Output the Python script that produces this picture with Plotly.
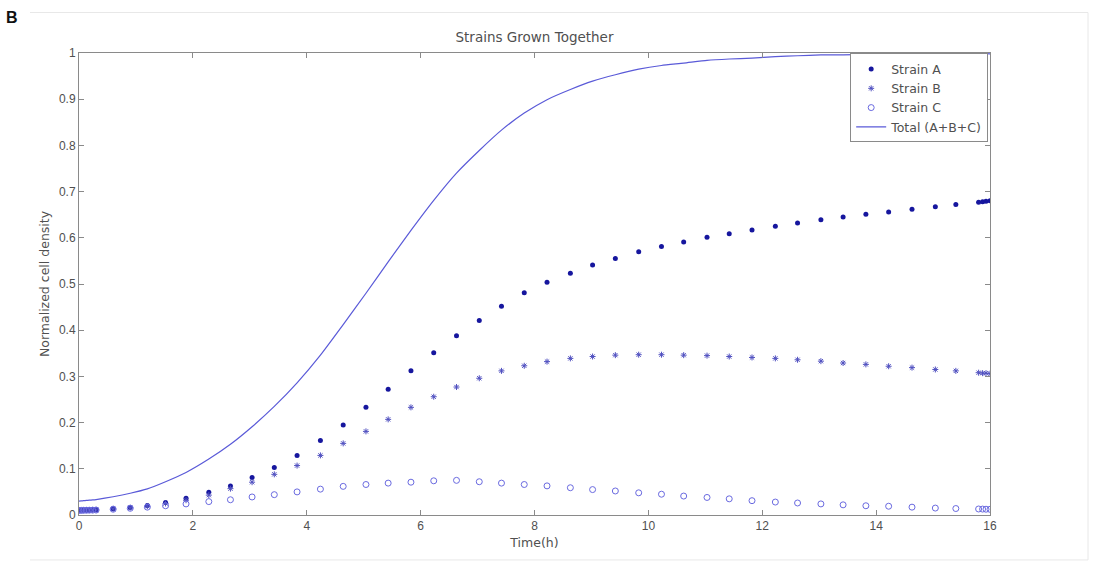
import plotly.graph_objects as go

# Solver output times (h) and normalized densities of the three co-cultured strains
time_h = [0.00, 0.04, 0.08, 0.13, 0.18, 0.24, 0.30, 0.60, 0.90, 1.20,
          1.52, 1.88, 2.28, 2.66, 3.04, 3.43, 3.83, 4.24, 4.64, 5.04,
          5.43, 5.83, 6.23, 6.63, 7.03, 7.42, 7.82, 8.22, 8.63, 9.02,
          9.42, 9.83, 10.23, 10.62, 11.03, 11.42, 11.82, 12.23, 12.62, 13.03,
          13.42, 13.82, 14.22, 14.63, 15.04, 15.40, 15.80, 15.87, 15.93, 16.00]

strain_a = [0.0100, 0.0102, 0.0104, 0.0106, 0.0108, 0.0111, 0.0114, 0.0135, 0.0165, 0.0205,
            0.027, 0.036, 0.049, 0.063, 0.081, 0.103, 0.129, 0.161, 0.195, 0.233,
            0.272, 0.312, 0.351, 0.388, 0.421, 0.452, 0.481, 0.504, 0.523, 0.541,
            0.555, 0.570, 0.581, 0.591, 0.601, 0.609, 0.617, 0.625, 0.632, 0.639,
            0.645, 0.651, 0.656, 0.662, 0.667, 0.672, 0.677, 0.678, 0.679, 0.680]

strain_b = [0.0100, 0.0102, 0.0104, 0.0106, 0.0108, 0.0110, 0.0113, 0.0135, 0.016, 0.019,
            0.025, 0.032, 0.043, 0.057, 0.071, 0.088, 0.107, 0.129, 0.155, 0.181,
            0.207, 0.233, 0.256, 0.277, 0.296, 0.312, 0.323, 0.332, 0.339, 0.343,
            0.346, 0.347, 0.347, 0.346, 0.345, 0.343, 0.341, 0.339, 0.336, 0.333,
            0.329, 0.326, 0.322, 0.319, 0.315, 0.312, 0.308, 0.307, 0.307, 0.306]

strain_c = [0.0100, 0.0101, 0.0102, 0.0103, 0.0104, 0.0105, 0.0107, 0.0125, 0.0145, 0.017,
            0.020, 0.024, 0.029, 0.033, 0.039, 0.044, 0.050, 0.056, 0.062, 0.066,
            0.069, 0.071, 0.074, 0.075, 0.072, 0.069, 0.066, 0.063, 0.059, 0.055,
            0.052, 0.048, 0.045, 0.041, 0.038, 0.035, 0.031, 0.028, 0.026, 0.024,
            0.022, 0.020, 0.019, 0.017, 0.015, 0.014, 0.013, 0.0128, 0.0125, 0.0123]

# Total population is the sum of the three strains
total = [a + b + c for a, b, c in zip(strain_a, strain_b, strain_c)]

x_ticks = [0, 2, 4, 6, 8, 10, 12, 14, 16]
y_ticks = [0, 0.1, 0.2, 0.3, 0.4, 0.5, 0.6, 0.7, 0.8, 0.9, 1]

TICK_FONT = "Liberation Sans, Arial, sans-serif"
TEXT_FONT = "DejaVu Sans, sans-serif"
AXIS_GREY = "#8a8a8a"
TEXT_GREY = "#505050"

fig = go.Figure()

fig.add_trace(go.Scatter(
    x=time_h, y=strain_a, mode="markers", name="Strain A",
    marker=dict(symbol="circle", size=5, color="#16169e"),
))
fig.add_trace(go.Scatter(
    x=time_h, y=strain_b, mode="markers", name="Strain B",
    marker=dict(symbol="asterisk-open", size=5, color="#5050c0",
                line=dict(color="#5050c0", width=1)),
))
fig.add_trace(go.Scatter(
    x=time_h, y=strain_c, mode="markers", name="Strain C",
    marker=dict(symbol="circle-open", size=6, color="#6a6ae0",
                line=dict(color="#6a6ae0", width=1)),
))
fig.add_trace(go.Scatter(
    x=time_h, y=total, mode="lines", name="Total (A+B+C)",
    line=dict(color="#5a5ad8", width=1.2, shape="spline", smoothing=0.5),
))

# Plot-area pixel geometry within the 1100x571 figure
L, R, T, B = 79, 990, 52.5, 515
W, H = R - L, B - T


def px_to_paper(px, py):
    return (px - L) / W, (B - py) / H


# faint outer frame (top, right, bottom edges)
x0, y0 = px_to_paper(30, 12)
x1, y1 = px_to_paper(1088, 560)
fig.add_shape(type="path", xref="paper", yref="paper",
              path=f"M {x0} {y0} L {x1} {y0} L {x1} {y1} L {x0} {y1}",
              line=dict(color="#e8e8e8", width=1))

bx, by = px_to_paper(12, 17)
fig.add_annotation(x=bx, y=by, xref="paper", yref="paper", text="<b>B</b>",
                   showarrow=False, xanchor="center", yanchor="middle",
                   font=dict(family=TICK_FONT, size=16, color="#111111"))

axis_common = dict(
    showline=True, linecolor=AXIS_GREY, linewidth=1, mirror="allticks",
    ticks="inside", ticklen=5, tickcolor=AXIS_GREY, tickwidth=1,
    showgrid=False, zeroline=False,
    tickfont=dict(family=TICK_FONT, size=12, color=TEXT_GREY),
)

fig.update_layout(
    width=1100, height=571,
    margin=dict(l=L, r=1100 - R, t=T, b=571 - B),
    paper_bgcolor="white", plot_bgcolor="white",
    title=dict(text="Strains Grown Together", x=(L + R) / 2 / 1100, xanchor="center",
               y=1 - 37 / 571, yanchor="middle",
               font=dict(family=TEXT_FONT, size=13.5, color=TEXT_GREY)),
    xaxis=dict(range=[0, 16], tickvals=x_ticks, ticktext=[str(v) for v in x_ticks],
               title=dict(text="Time(h)", standoff=5,
                          font=dict(family=TEXT_FONT, size=12.5, color=TEXT_GREY)),
               **axis_common),
    yaxis=dict(range=[0, 1], tickvals=y_ticks, ticktext=[f"{v:g}" for v in y_ticks],
               title=dict(text="Normalized cell density", standoff=6,
                          font=dict(family=TEXT_FONT, size=12.5, color=TEXT_GREY)),
               **axis_common),
    legend=dict(x=0.998, xanchor="right", y=0.999, yanchor="top",
                bgcolor="white", bordercolor=AXIS_GREY, borderwidth=1,
                font=dict(family=TEXT_FONT, size=12.5, color=TEXT_GREY),
                itemwidth=30, tracegroupgap=0),
    showlegend=True,
)

fig.write_html("out.html")
